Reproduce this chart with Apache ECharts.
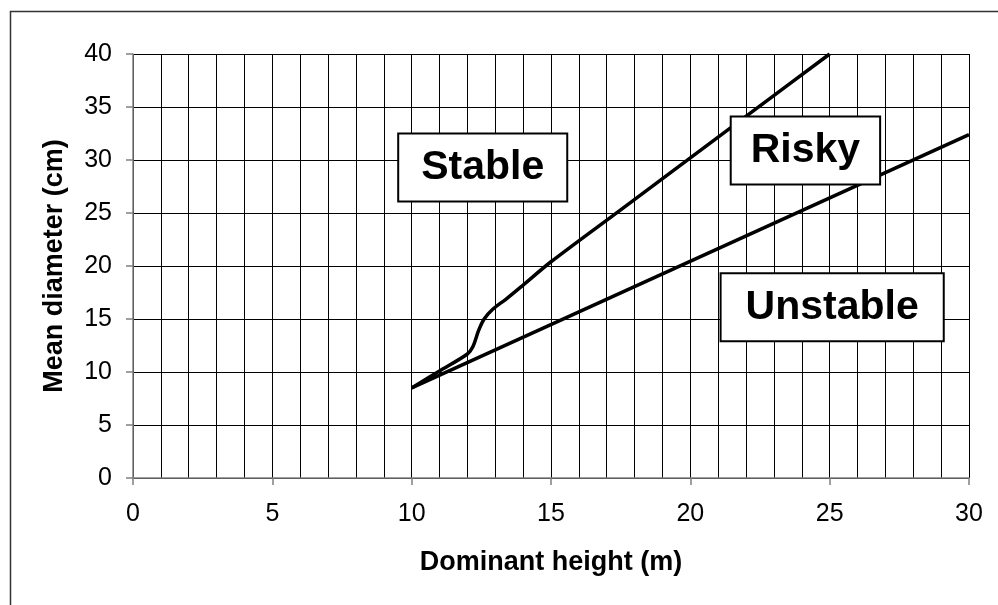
<!DOCTYPE html>
<html>
<head>
<meta charset="utf-8">
<script src="https://cdn.jsdelivr.net/npm/echarts@6/dist/echarts.min.js"></script>
<style>
  html, body { margin: 0; padding: 0; background: #fff; }
  #chart { width: 998px; height: 605px; }
</style>
</head>
<body>
<div id="chart"></div>
<script>
// boundary between stable and risky (upper curve)
const upperLine = [
  [10, 8.5], [11, 10.1], [12, 11.7], [12.2, 12.4], [12.4, 13.9], [12.6, 15.0],
  [12.9, 15.9], [13.4, 16.9], [14, 18.2], [15, 20.4], [17.5, 25.3],
  [20, 30.2], [22.5, 35.1], [25, 40]
];
// boundary between risky and unstable (lower straight line)
const lowerLine = [[10, 8.5], [30, 32.4]];

// zone labels, placed at data coordinates
const zoneNames = ['Stable', 'Risky', 'Unstable'];
const zoneX = [12.55, 24.13, 25.09];
const zoneY = [29.3, 30.9, 16.1];

const xTitle = 'Dominant height (m)';
const yTitle = 'Mean diameter (cm)';

const chart = echarts.init(document.getElementById('chart'));
const font = 'Liberation Sans, Arial, sans-serif';

// horizontal padding of each label box
const boxPadX = [22, 19, 24];

chart.setOption({
  animation: false,
  backgroundColor: '#fff',
  graphic: [{
    type: 'rect',
    shape: { x: 10.5, y: 11.5, width: 1200, height: 1200 },
    style: { fill: 'none', stroke: '#333', lineWidth: 1.5 },
    silent: true
  }],
  grid: { left: 133, right: 29, top: 54, bottom: 127 },
  xAxis: {
    type: 'value',
    min: 0, max: 30, interval: 5,
    name: xTitle,
    nameLocation: 'middle',
    nameGap: 71,
    nameTextStyle: { fontFamily: font, fontSize: 27, fontWeight: 'bold', color: '#000' },
    axisLine: { lineStyle: { color: '#808080', width: 1.5 } },
    axisTick: { show: true, length: 7, lineStyle: { color: '#808080', width: 1.5 } },
    axisLabel: { fontFamily: font, fontSize: 25, color: '#000', margin: 24 },
    splitLine: { show: true, lineStyle: { color: '#000', width: 1 } },
    minorTick: { show: false, splitNumber: 5 },
    minorSplitLine: { show: true, lineStyle: { color: '#000', width: 1 } }
  },
  yAxis: {
    type: 'value',
    min: 0, max: 40, interval: 5,
    name: yTitle,
    nameLocation: 'middle',
    nameGap: 65,
    nameTextStyle: { fontFamily: font, fontSize: 27, fontWeight: 'bold', color: '#000' },
    axisLine: { show: true, lineStyle: { color: '#808080', width: 1.5 } },
    axisTick: { show: true, length: 7, lineStyle: { color: '#808080', width: 1.5 } },
    axisLabel: { fontFamily: font, fontSize: 25, color: '#000', margin: 21 },
    splitLine: { show: true, lineStyle: { color: '#000', width: 1 } }
  },
  series: [
    {
      type: 'line',
      data: upperLine,
      smooth: 0.3,
      symbol: 'none',
      lineStyle: { color: '#000', width: 3.5 },
      z: 5
    },
    {
      type: 'line',
      data: lowerLine,
      symbol: 'none',
      lineStyle: { color: '#000', width: 3.5 },
      z: 5
    },
    {
      type: 'custom',
      z: 10,
      silent: true,
      data: zoneNames.map((n, i) => [zoneX[i], zoneY[i], i]),
      renderItem: (params, api) => {
        const i = api.value(2);
        const p = api.coord([api.value(0), api.value(1)]);
        return {
          type: 'text',
          x: p[0],
          y: p[1],
          style: {
            text: zoneNames[i],
            font: 'bold 41px ' + font,
            fill: '#000',
            align: 'center',
            verticalAlign: 'middle',
            lineHeight: 46,
            backgroundColor: '#fff',
            borderColor: '#000',
            borderWidth: 2,
            padding: [11, boxPadX[i], 9, boxPadX[i]]
          }
        };
      }
    }
  ]
});
</script>
</body>
</html>
